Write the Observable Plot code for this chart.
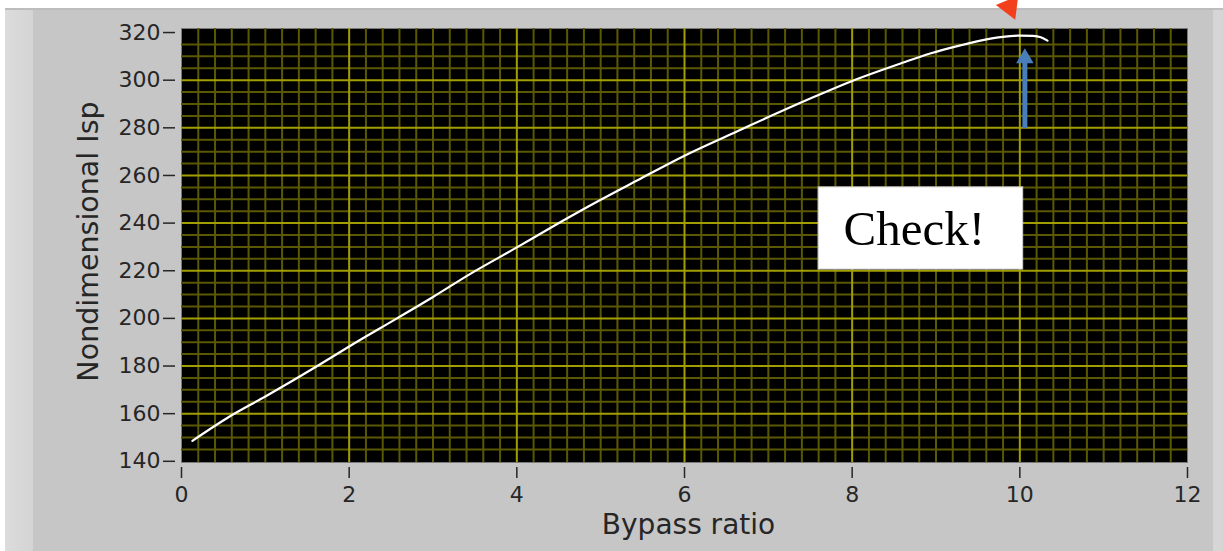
<!DOCTYPE html>
<html>
<head>
<meta charset="utf-8">
<script src="https://cdn.jsdelivr.net/npm/d3@7"></script>
<script src="https://cdn.jsdelivr.net/npm/@observablehq/plot@0.6"></script>
<style>
  html, body { margin: 0; padding: 0; background: #ffffff; }
  #wrap { position: relative; width: 1223px; height: 551px; overflow: hidden; }
  .bg { position: absolute; }
  #chart { position: absolute; left: 0; top: 0; }
</style>
</head>
<body>
<div id="wrap">
  <div class="bg" style="left:5px;top:8px;width:1208px;height:543px;background:#c6c6c6;"></div>
  <div class="bg" style="left:5px;top:8px;width:28px;height:543px;background:linear-gradient(to right,#dcdcdc,#d4d4d4);"></div>
  <div class="bg" style="left:1213px;top:8px;width:10px;height:543px;background:#d6d6d6;"></div>
  <div class="bg" style="left:5px;top:8px;width:1218px;height:2px;background:#bdbdbd;"></div>
  <div id="chart"></div>
</div>
<script>
// Data
const bypassRatio = [0.13, 0.56, 1.0, 1.62, 2.0, 2.57, 3.0, 3.45, 4.0, 4.44, 5.0, 5.44, 6.0, 6.69, 7.0, 7.5, 8.0, 8.6, 8.93, 9.29, 9.53, 9.77, 10.0, 10.16, 10.25, 10.33];
const nondimIsp   = [148.6, 158.5, 167.2, 180, 188.2, 200, 209, 218.8, 229.8, 238.8, 249.8, 258, 268.3, 279.5, 284.5, 292.3, 299.7, 307.3, 311.2, 314.6, 316.6, 318.1, 318.7, 318.6, 318, 316.6];

const xTickLabels = [0, 2, 4, 6, 8, 10, 12];
const yTickLabels = [140, 160, 180, 200, 220, 240, 260, 280, 300, 320];
const xMinorStep = 0.2;
const yMinorStep = 5;

const xLabel = "Bypass ratio";
const yLabel = "Nondimensional Isp";

// Annotations (data coordinates)
const noteBox = [{x1: 7.6, x2: 10.04, y1: 220.5, y2: 255}];
const noteText = [{x: 8.74, y: 237.5, text: "Check!"}];
const blueShaft = [{x: 10.06, y1: 279.7, y2: 307.5}];
const blueHead = [{x: 10.06, y: 309.2}];
const redHead = [{x: 9.88, y: 330.8}];

const curve = bypassRatio.map((b, i) => ({x: b, y: nondimIsp[i]}));
const minorX = d3.range(0, 12 + 1e-9, xMinorStep).map(v => +v.toFixed(2)).filter(v => Math.abs(v / 2 - Math.round(v / 2)) > 1e-6);
const minorY = d3.range(140, 320 + 1e-9, yMinorStep).filter(v => v % 20 !== 0);

const chart = Plot.plot({
  width: 1223,
  height: 551,
  marginLeft: 181,
  marginRight: 36,
  marginTop: 28,
  marginBottom: 89,
  style: {background: "transparent", color: "#262626", fontFamily: "DejaVu Sans", overflow: "visible"},
  x: {domain: [0, 12], label: null},
  y: {domain: [139.5, 321.7], label: null},
  marks: [
    Plot.frame({fill: "black", stroke: "#7a7a7a"}),
    Plot.ruleX(minorX, {stroke: "#5a5800", strokeWidth: 2}),
    Plot.ruleY(minorY, {stroke: "#5a5800", strokeWidth: 2}),
    Plot.ruleX(xTickLabels.slice(1, -1), {stroke: "#a39e00", strokeWidth: 2}),
    Plot.ruleY(yTickLabels.slice(1, -1), {stroke: "#a39e00", strokeWidth: 2}),
    Plot.line(curve, {x: "x", y: "y", stroke: "white", strokeWidth: 2.2, curve: "monotone-x"}),
    Plot.axisX({ticks: xTickLabels, tickSize: 11, dy: 5, tickPadding: 8, fontSize: 22, strokeWidth: 1.5}),
    Plot.axisY({ticks: yTickLabels, tickSize: 12, dx: -6, tickPadding: 3, fontSize: 22, strokeWidth: 1.5}),
    Plot.text([xLabel], {frameAnchor: "bottom", dy: 71, dx: 4, text: d => d, fontSize: 28, fill: "#262626"}),
    Plot.text([yLabel], {frameAnchor: "left", dx: -93, dy: -4, rotate: -90, textAnchor: "middle", text: d => d, fontSize: 28.5, fill: "#262626"}),
    Plot.rect(noteBox, {x1: "x1", x2: "x2", y1: "y1", y2: "y2", fill: "white", stroke: "#d0d0d0"}),
    Plot.text(noteText, {x: "x", y: "y", text: "text", fontSize: 49, fontFamily: "Liberation Serif", fill: "black", lineAnchor: "middle"}),
    Plot.ruleX(blueShaft, {x: "x", y1: "y1", y2: "y2", stroke: "#4a7ebb", strokeWidth: 5}),
    Plot.dot(blueHead, {x: "x", y: "y", symbol: "triangle", r: 6.5, fill: "#4a7ebb", stroke: "none"}),
    Plot.dot(redHead, {x: "x", y: "y", symbol: "triangle", r: 9, rotate: 157, fill: "#f2401c", stroke: "none"})
  ]
});
document.getElementById("chart").appendChild(chart);
</script>
</body>
</html>
